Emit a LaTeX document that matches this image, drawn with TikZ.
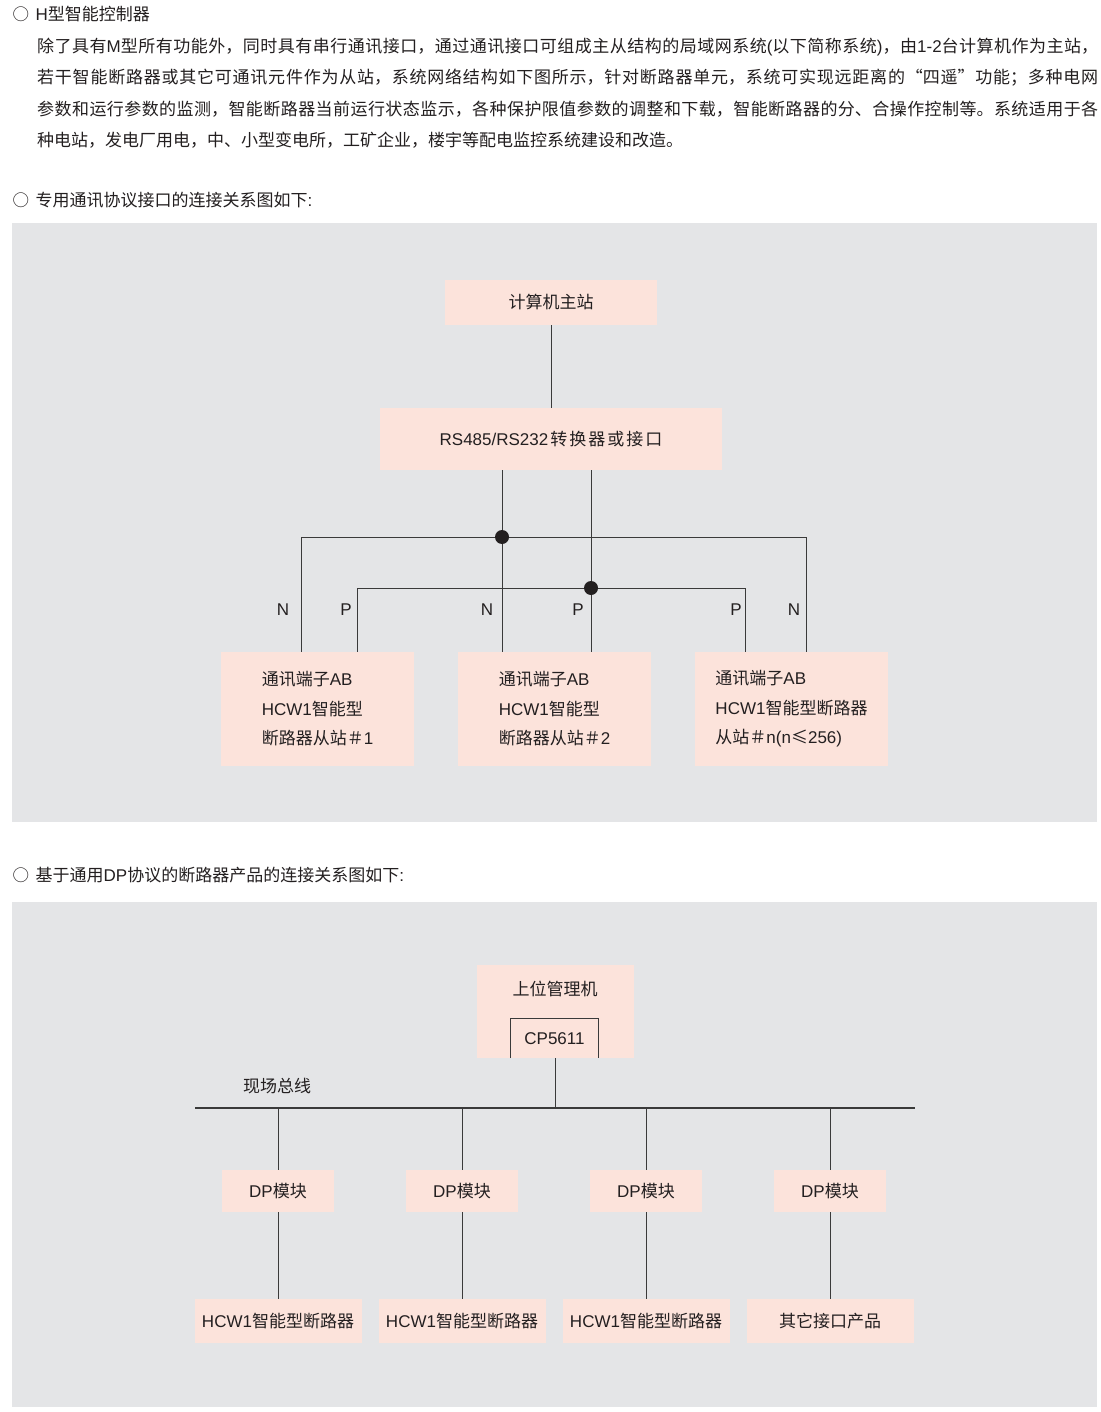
\documentclass[tikz,border=0pt]{standalone}
\usepackage{fontspec}
\setmainfont{Liberation Sans}
\newfontfamily\cjk{Noto Sans CJK SC}
\newfontfamily\lat{Liberation Sans}
\definecolor{panelgray}{HTML}{E4E5E7}
\definecolor{boxpink}{HTML}{FCE3DB}
\definecolor{inkc}{HTML}{231F20}
\definecolor{wirec}{HTML}{3A3A3A}
\newcommand\circhead{\hspace{-1.5pt}{\fontsize{16.5}{17}\selectfont\cjk ○}\hspace{6.5pt}}
\newcommand\jline[1]{\parbox{1061pt}{\XeTeXlinebreaklocale "zh"\XeTeXlinebreakskip=0pt plus 3pt\parfillskip=0pt\relax\cjk #1}}
\begin{document}
\begin{tikzpicture}[x=1pt,y=-1pt,
  every node/.style={text=inkc,font=\fontsize{17}{20}\selectfont},
  pinkbox/.style={fill=boxpink,draw=none,inner sep=0pt,minimum width=#1},
  wire/.style={draw=wirec,line width=1pt},
  bus/.style={draw=wirec,line width=1.4pt},
  dotj/.style={circle,fill=inkc,inner sep=0pt,minimum size=14pt},
  para/.style={anchor=west,inner sep=0pt},
  lbl/.style={inner sep=0pt}]
\useasboundingbox (0,0) rectangle (1100,1412);
\fill[white] (0,0) rectangle (1100,1412);
% ---- text ----
\node[para] (h1) at (14,14) {\circhead{\cjk{\lat H}型智能控制器}};
\node[para] (l1) at (37,47) {\jline{除了具有{\lat M}型所有功能外，同时具有串行通讯接口，通过通讯接口可组成主从结构的局域网系统{\lat (}以下简称系统{\lat )}，由{\lat 1-2}台计算机作为主站，}};
\node[para] (l2) at (37,78) {\jline{若干智能断路器或其它可通讯元件作为从站，系统网络结构如下图所示，针对断路器单元，系统可实现远距离的“四遥”功能；多种电网}};
\node[para] (l3) at (37,109) {\jline{参数和运行参数的监测，智能断路器当前运行状态监示，各种保护限值参数的调整和下载，智能断路器的分、合操作控制等。系统适用于各}};
\node[para] (l4) at (37,140) {\cjk 种电站，发电厂用电，中、小型变电所，工矿企业，楼宇等配电监控系统建设和改造。};
\node[para] (h2) at (14,200) {\circhead{\cjk 专用通讯协议接口的连接关系图如下{\lat :}}};
\node[para] (h3) at (14,875) {\circhead{\cjk 基于通用{\lat DP}协议的断路器产品的连接关系图如下{\lat :}}};
% ---- panel 1 ----
\fill[panelgray] (12,223) rectangle (1097,822);
\node[pinkbox=212pt,minimum height=45pt] (cms) at (551,302.5) {\cjk 计算机主站};
\node[pinkbox=342pt,minimum height=62pt] (rs) at (551,439) {RS485/RS232{\cjk \hspace{2pt}转\hspace{2pt}换\hspace{2pt}器\hspace{2pt}或\hspace{2pt}接\hspace{2pt}口}};
\node[pinkbox=193pt,minimum height=114pt,align=left,execute at begin node={\setlength{\baselineskip}{29.5pt}}] (s1) at (317.5,709) {{\cjk 通讯端子}AB\\HCW1{\cjk 智能型}\\{\cjk 断路器从站＃}1};
\node[pinkbox=193pt,minimum height=114pt,align=left,execute at begin node={\setlength{\baselineskip}{29.5pt}}] (s2) at (554.5,709) {{\cjk 通讯端子}AB\\HCW1{\cjk 智能型}\\{\cjk 断路器从站＃}2};
\node[pinkbox=193pt,minimum height=114pt,align=left,execute at begin node={\setlength{\baselineskip}{29.5pt}}] (s3) at (791.5,709) {{\cjk 通讯端子}AB\\HCW1{\cjk 智能型断路器}\\{\cjk 从站＃}n(n{\cjk ≤}256)};
\draw[wire] (cms.south) -- (rs.north);
\coordinate (j1) at (502,537);
\coordinate (j2) at (591,588);
\coordinate (nL) at (301,537);
\coordinate (nR) at (806,537);
\coordinate (pL) at (357,588);
\coordinate (pR) at (745,588);
\draw[wire] (j1 |- rs.south) -- (j1 |- s2.north);
\draw[wire] (j2 |- rs.south) -- (j2 |- s2.north);
\draw[wire] (nL |- s1.north) -- (nL) -- (nR) -- (nR |- s3.north);
\draw[wire] (pL |- s1.north) -- (pL) -- (pR) -- (pR |- s3.north);
\node[dotj] (d1) at (j1) {};
\node[dotj] (d2) at (j2) {};
\node[lbl] (n1) at (283,610) {N};
\node[lbl] (p1) at (346,610) {P};
\node[lbl] (n2) at (487,610) {N};
\node[lbl] (p2) at (578,610) {P};
\node[lbl] (p3) at (736,610) {P};
\node[lbl] (n3) at (794,610) {N};
% ---- panel 2 ----
\fill[panelgray] (12,902) rectangle (1097,1407);
\node[pinkbox=157pt,minimum height=93pt] (host) at (555,1011.5) {};
\node[lbl] (hostt) at (555,989) {\cjk 上位管理机};
\node[inner sep=0pt,minimum width=87pt,minimum height=39pt] (cp) at (554.5,1038.5) {CP5611};
\draw[wire] (cp.south west) -- (cp.north west) -- (cp.north east) -- (cp.south east);
\coordinate (busL) at (195,1108);
\coordinate (busR) at (915,1108);
\draw[bus] (busL) -- (busR);
\draw[wire] (host.south) -- (host.south |- busL);
\node[lbl] (fb) at (277,1086) {\cjk 现场总线};
\foreach \i/\x/\t in {1/278/{HCW1{\cjk 智能型断路器}},2/462/{HCW1{\cjk 智能型断路器}},3/646/{HCW1{\cjk 智能型断路器}},4/830/{{\cjk 其它接口产品}}}{
  \node[pinkbox=112pt,minimum height=42pt] (dp\i) at (\x,1191) {DP{\cjk 模块}};
  \node[pinkbox=167pt,minimum height=44pt] (hc\i) at (\x,1321) {\t};
  \draw[wire] (dp\i.north |- busL) -- (dp\i.north);
  \draw[wire] (dp\i.south) -- (hc\i.north);
}
\end{tikzpicture}
\end{document}
